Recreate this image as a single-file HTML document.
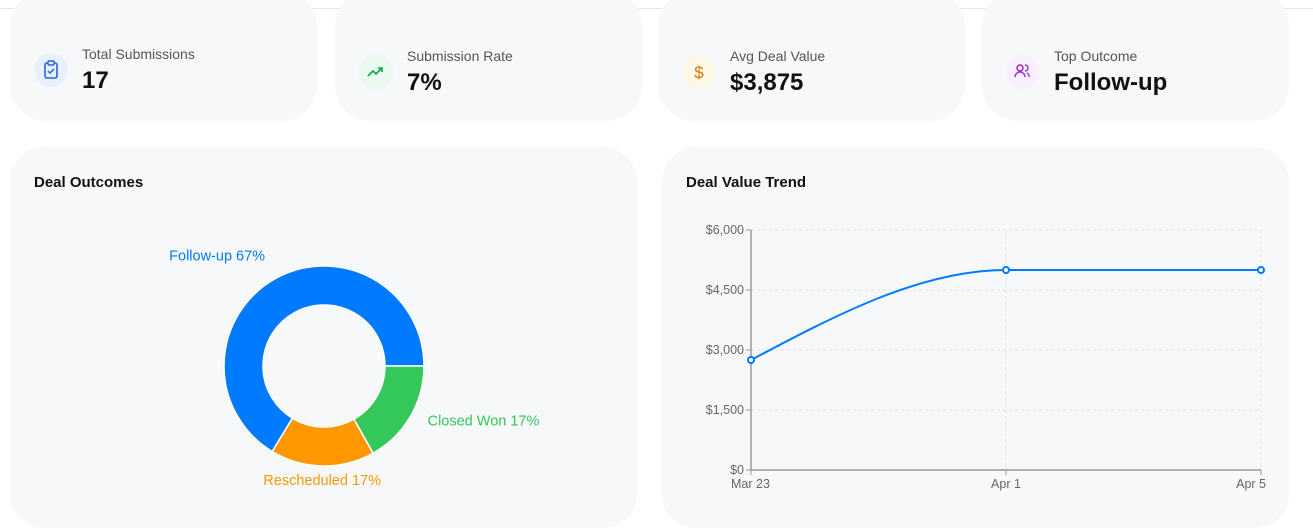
<!DOCTYPE html>
<html><head><meta charset="utf-8"><style>
body{margin:0;width:1313px;height:529px;background:#fff;font-family:"Liberation Sans",sans-serif;position:relative;overflow:hidden}
.topline{position:absolute;left:0;top:8px;width:1313px;height:1px;background:#e5e7eb}
.card{position:absolute;top:-10px;height:131px;width:307px;background:#f7f8fa;border-radius:36px}
.icon{position:absolute;left:24px;top:65px;width:34px;height:34px;border-radius:50%}
.icon svg{position:absolute;left:2px;top:0}
.lab{position:absolute;left:72px;font-size:14px;color:#555}
.val{position:absolute;left:72px;font-size:24px;font-weight:bold;color:#111}
.panel{position:absolute;top:147px;height:381px;background:#f7f8fa;border-radius:34px}
.ptitle{position:absolute;left:24px;top:27px;font-size:15px;font-weight:bold;color:#111}
</style></head><body>
<div class="topline"></div>

<div class="card" style="left:10px">
 <div class="icon" style="background:#e8f0fe;top:63px"><svg width="30" height="34" viewBox="0 0 30 34"><rect x="9" y="10" width="12" height="15" rx="2" fill="none" stroke="#2563eb" stroke-width="1.6"/><rect x="12" y="8" width="6" height="4" rx="1" fill="#e8f0fe" stroke="#2563eb" stroke-width="1.4"/><path d="M12 18l2 2 4-4" fill="none" stroke="#2563eb" stroke-width="1.5"/></svg></div>
 <div class="lab" style="top:56px">Total Submissions</div>
 <div class="val" style="top:77px">17</div>
</div>
<div class="card" style="left:335px">
 <div class="icon" style="background:#e9f9ef"><svg width="30" height="34" viewBox="0 0 30 34"><path d="M7 21l5-5 3 3 6-6M17 13h4v4" fill="none" stroke="#16a34a" stroke-width="1.6"/></svg></div>
 <div class="lab" style="top:58px">Submission Rate</div>
 <div class="val" style="top:79px">7%</div>
</div>
<div class="card" style="left:658px">
 <div class="icon" style="background:#fdf7e6"><svg width="30" height="34" viewBox="0 0 30 34"><text x="15" y="23" text-anchor="middle" font-size="17" fill="#d97706" font-family="Liberation Sans">$</text></svg></div>
 <div class="lab" style="top:58px">Avg Deal Value</div>
 <div class="val" style="top:79px">$3,875</div>
</div>
<div class="card" style="left:982px">
 <div class="icon" style="background:#f8f0fe"><svg width="30" height="34" viewBox="0 0 30 34"><circle cx="12" cy="13" r="3" fill="none" stroke="#a21caf" stroke-width="1.4"/><path d="M7 22a5 5 0 0 1 10 0M17 10a3 3 0 0 1 0 6M19 18a4 4 0 0 1 2 4" fill="none" stroke="#9333ea" stroke-width="1.4"/></svg></div>
 <div class="lab" style="top:58px">Top Outcome</div>
 <div class="val" style="top:79px">Follow-up</div>
</div>

<div class="panel" style="left:10px;width:627px">
 <div class="ptitle">Deal Outcomes</div>
</div>
<div class="panel" style="left:662px;width:627px">
 <div class="ptitle">Deal Value Trend</div>
</div>

<svg id="pie" width="1313" height="529" style="position:absolute;left:0;top:0"></svg>
<svg id="line" width="1313" height="529" style="position:absolute;left:0;top:0"></svg>

<script>
const outcomeNames=["Follow-up","Rescheduled","Closed Won"];
const outcomeValues=[67,17,17];
const outcomeColors=["#007bff","#ff9800","#34c759"];
const trendDates=["Mar 23","Apr 1","Apr 5"];
const trendValues=[2750,5000,5000];
const yTicks=[0,1500,3000,4500,6000];
const yTickLabels=["$0","$1,500","$3,000","$4,500","$6,000"];

const NS="http://www.w3.org/2000/svg";
function mk(p,t,a){const e=document.createElementNS(NS,t);for(const k in a)e.setAttribute(k,a[k]);p.appendChild(e);return e;}

// donut
const pie=document.getElementById('pie');
const cx=324,cy=366,R=100,r=61;
const total=outcomeValues.reduce((a,b)=>a+b,0);
let ang=0;
outcomeValues.forEach((v,i)=>{
 const a0=ang,a1=ang+v/total*360;ang=a1;
 const rad=d=>d*Math.PI/180;
 const P=(rr,d)=>[cx+rr*Math.cos(rad(d)),cy-rr*Math.sin(rad(d))];
 const [x0,y0]=P(R,a0),[x1,y1]=P(R,a1),[x2,y2]=P(r,a1),[x3,y3]=P(r,a0);
 const lg=(a1-a0)>180?1:0;
 const p=mk(pie,'path',{d:`M${x0},${y0}A${R},${R} 0 ${lg} 0 ${x1},${y1}L${x2},${y2}A${r},${r} 0 ${lg} 1 ${x3},${y3}Z`,fill:outcomeColors[i],stroke:'#fff','stroke-width':1.5});
 
 
 const mid=(a0+a1)/2;const [lx,ly]=P(R+20,mid);
 const c=Math.cos(rad(mid));
 const t=mk(pie,'text',{x:lx,y:ly-5,fill:outcomeColors[i],'font-size':14.5,'font-family':'Liberation Sans','text-anchor':c>0.1?'start':(c<-0.1?'end':'middle'),'dominant-baseline':'central'});
 t.textContent=outcomeNames[i]+' '+v+'%';
 
 
});

// line chart
const svg=document.getElementById('line');
const X0=751,X1=1261,Y0=470,Y1=230;
const xp=i=>X0+i*(X1-X0)/(trendDates.length-1);
const yp=v=>Y0-v/6000*(Y0-Y1);
yTicks.forEach((t,i)=>{
 if(t>0){const g=mk(svg,'line',{x1:X0,x2:X1,y1:yp(t),y2:yp(t),stroke:'#e3e5e8','stroke-dasharray':'3 3'});}
 mk(svg,'line',{x1:X0-5,x2:X0,y1:yp(t),y2:yp(t),stroke:'#999'});
 const tx=mk(svg,'text',{x:X0-7,y:yp(t)+4,'text-anchor':'end','font-size':12.5,fill:'#666','font-family':'Liberation Sans'});
 tx.textContent=yTickLabels[i];
 
 
});
trendDates.forEach((d,i)=>{
 if(i>0){const g=mk(svg,'line',{x1:xp(i),x2:xp(i),y1:Y1,y2:Y0,stroke:'#e3e5e8','stroke-dasharray':'3 3'});}
 mk(svg,'line',{x1:xp(i),x2:xp(i),y1:Y0,y2:Y0+5,stroke:'#999'});
 const tx=mk(svg,'text',{x:xp(i),y:Y0+18,'text-anchor':i==trendDates.length-1?'end':(i==0?'start':'middle'),'font-size':12.5,fill:'#666','font-family':'Liberation Sans'});
 if(i==0)tx.setAttribute('x',xp(i)-20);
 if(i==trendDates.length-1)tx.setAttribute('x',xp(i)+5);
 tx.textContent=d;
 
 
});
const ax=mk(svg,'path',{d:`M${X0},${Y1}V${Y0}H${X1}`,fill:'none',stroke:'#999','stroke-width':1.5});


// monotone cubic path
const px=trendDates.map((_,i)=>xp(i)),py=trendValues.map(yp);
const n=px.length,m=[],dx=[],sl=[];
for(let i=0;i<n-1;i++){dx[i]=px[i+1]-px[i];sl[i]=(py[i+1]-py[i])/dx[i];}
m[0]=sl[0];m[n-1]=sl[n-2];
for(let i=1;i<n-1;i++)m[i]=(sl[i-1]*sl[i]<=0)?0:3*(dx[i-1]+dx[i])/((2*dx[i]+dx[i-1])/sl[i-1]+(dx[i]+2*dx[i-1])/sl[i]);
if(n>2){m[0]=(3*sl[0]-m[1])/2;}
let d=`M${px[0]},${py[0]}`;
for(let i=0;i<n-1;i++){const h=dx[i]/3;d+=`C${px[i]+h},${py[i]+m[i]*h} ${px[i+1]-h},${py[i+1]-m[i+1]*h} ${px[i+1]},${py[i+1]}`;}
const ln=mk(svg,'path',{d:d,fill:'none',stroke:'#007bff','stroke-width':2});


px.forEach((x,i)=>{
 const c=mk(svg,'circle',{cx:x,cy:py[i],r:3,fill:'#fff',stroke:'#007bff','stroke-width':2});
 
 
});
</script>
</body></html>
